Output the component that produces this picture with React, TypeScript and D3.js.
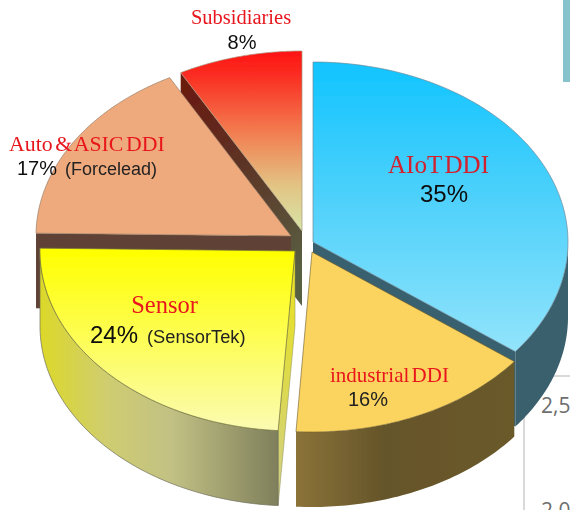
import React from "react";
import * as d3 from "d3";

const sliceNames = ["AIoT DDI", "industrial DDI", "Sensor", "Auto & ASIC DDI", "Subsidiaries"];
const sliceValues = [35, 16, 24, 17, 8];
const axisTicks = ["2,5", "2,0"];

// Layout of the exploded, tilted pie
const W = 570, H = 510, RX = 255, RY = 180, DEPTH = 75;
const centers: [number, number][] = [[313, 242], [312, 252], [295, 251], [291, 236], [302, 231]];
// perspective nudges of each slice's start and end, degrees
const startNudge = [0, 1.5, 0.2, 0.9, 0.4];
const endNudge = [1.5, 0, 0.9, 0.4, 0];

const arcs = d3.pie<number>().sort(null).value((d) => d)(sliceValues);
const rad = (deg: number) => (deg * Math.PI) / 180;

function span(i: number): [number, number] {
  return [arcs[i].startAngle + rad(startNudge[i]), arcs[i].endAngle + rad(endNudge[i])];
}
function pt(i: number, a: number, dy = 0): [number, number] {
  const [cx, cy] = centers[i];
  return [cx + RX * Math.sin(a), cy - RY * Math.cos(a) + dy];
}
function arcPts(i: number, a0: number, a1: number, dy = 0): [number, number][] {
  return d3.range(0, 61).map((k) => pt(i, a0 + ((a1 - a0) * k) / 60, dy));
}
const line = d3.line().curve(d3.curveLinear);
const closed = (pts: [number, number][]) => line(pts) + "Z";

function topFace(i: number) {
  const [a0, a1] = span(i);
  return closed([centers[i], ...arcPts(i, a0, a1)]);
}
function outerWall(i: number, a0: number, a1: number) {
  return closed([...arcPts(i, a0, a1), ...arcPts(i, a1, a0, DEPTH)]);
}
function edgeWall(i: number, a: number) {
  const c = centers[i];
  const p = pt(i, a);
  return closed([c, p, [p[0], p[1] + DEPTH], [c[0], c[1] + DEPTH]]);
}

const serif = "'Liberation Serif', 'Times New Roman', serif";
const sans = "'Liberation Sans', Arial, sans-serif";
const RED = "#e8171d";

function Grad({ id, x1, y1, x2, y2, stops }: any) {
  return (
    <linearGradient id={id} gradientUnits="userSpaceOnUse" x1={x1} y1={y1} x2={x2} y2={y2}>
      {stops.map((s: [number, string], k: number) => (
        <stop key={k} offset={s[0]} stopColor={s[1]} />
      ))}
    </linearGradient>
  );
}

export default function App() {
  const sp = [0, 1, 2, 3, 4].map(span);
  const edge = "#6f6f5c";
  return (
    <svg width={W} height={H} viewBox={`0 0 ${W} ${H}`} style={{ position: "absolute", left: 0, top: 0, display: "block", background: "#fff" }}>
      <defs>
        <filter id="soft" x="-5%" y="-5%" width="110%" height="110%">
          <feGaussianBlur stdDeviation="0.45" />
        </filter>
        <Grad id="gBlue" x1={0} y1={61} x2={0} y2={352} stops={[[0, "#10c4ff"], [0.45, "#4bd0fb"], [1, "#92e4fb"]]} />
        <Grad id="gRed" x1={0} y1={51} x2={0} y2={232} stops={[[0, "#ff1414"], [0.12, "#fb2a20"], [0.45, "#f27d50"], [0.75, "#e2c585"], [1, "#d6e6a8"]]} />
        <Grad id="gRedWall" x1={181} y1={90} x2={302} y2={270} stops={[[0, "#6a1a10"], [0.45, "#5c3426"], [1, "#596043"]]} />
        <Grad id="gYellow" x1={0} y1={250} x2={0} y2={432} stops={[[0, "#ffff00"], [0.5, "#fdfd58"], [1, "#fbfbb4"]]} />
        <Grad id="gYellowWall" x1={41} y1={0} x2={278} y2={0} stops={[[0, "#dcd82a"], [0.28, "#cfcd70"], [0.55, "#c2c184"], [1, "#7f7f5c"]]} />
        <Grad id="gYellowEdge" x1={0} y1={251} x2={0} y2={506} stops={[[0, "#ece41c"], [0.4, "#e0dc40"], [1, "#cfce8a"]]} />
        <Grad id="gBrownWall" x1={296} y1={0} x2={514} y2={0} stops={[[0, "#8b7339"], [0.4, "#65552a"], [1, "#6a5a2a"]]} />
      </defs>

      <g stroke="#d9d9d9" strokeWidth={2} fill="none">
        <line x1={524} y1={376} x2={570} y2={376} />
        <line x1={524} y1={376} x2={524} y2={510} />
      </g>
      <rect x={563} y={0} width={7} height={82} fill="#86c3cc" />
      <g fontFamily="'Open Sans', sans-serif" fontSize={21} fill="#6e6e6e">
        <text x={541} y={413}>{axisTicks[0]}</text>
        <text x={541} y={518}>{axisTicks[1]}</text>
      </g>

      <g filter="url(#soft)">
        <path d={edgeWall(0, sp[0][1])} fill="#38606e" />
        <path d={outerWall(0, rad(90), sp[0][1])} fill="#3b606d" />

        <path d={edgeWall(4, sp[4][0])} fill="url(#gRedWall)" />
        <path d={topFace(4)} fill="url(#gRed)" stroke="#a89a80" strokeWidth={0.7} />

        <path d={edgeWall(3, sp[3][0])} fill="#5e4234" />
        <path d={topFace(3)} fill="#eeaa7d" stroke="#9a8068" strokeWidth={0.7} />

        <path d={edgeWall(2, sp[2][0])} fill="url(#gYellowEdge)" stroke="#8a8a50" strokeWidth={0.5} />
        <path d={outerWall(2, sp[2][0], sp[2][1])} fill="url(#gYellowWall)" stroke={edge} strokeWidth={0.7} />
        <path d={topFace(2)} fill="url(#gYellow)" stroke="#77773a" strokeWidth={0.7} />

        <path d={outerWall(1, sp[1][0], sp[1][1])} fill="url(#gBrownWall)" />
        <path d={topFace(1)} fill="#fbd35f" stroke="#6b5a2a" strokeWidth={0.6} />

        <path d={topFace(0)} fill="url(#gBlue)" stroke="#6d8b99" strokeWidth={0.7} />

        <text x={241} y={24} textAnchor="middle" fontFamily={serif} fontSize={20.5} fill={RED}>{sliceNames[4]}</text>
        <text x={242} y={49} textAnchor="middle" fontFamily={sans} fontSize={20} fill="#111">{sliceValues[4]}%</text>

        <text x={9} y={151} fontFamily={serif} fontSize={21.8} wordSpacing={-2.8} fill={RED}>{sliceNames[3]}</text>
        <text x={17} y={175} fontFamily={sans} fontSize={20} fill="#111">{sliceValues[3]}%</text>
        <text x={65} y={175} fontFamily={sans} fontSize={18} fill="#222">(Forcelead)</text>

        <text x={388} y={173} fontFamily={serif} fontSize={25} wordSpacing={-3.4} fill="#d3202e">{sliceNames[0]}</text>
        <text x={444} y={202} textAnchor="middle" fontFamily={sans} fontSize={24} fill="#0a0a0a">{sliceValues[0]}%</text>

        <text x={164.5} y={313} textAnchor="middle" fontFamily={serif} fontSize={24.5} fill={RED}>{sliceNames[2]}</text>
        <text x={90} y={343} fontFamily={sans} fontSize={24} fill="#0a0a0a">{sliceValues[2]}%</text>
        <text x={147} y={343} fontFamily={sans} fontSize={18.3} fill="#222">(SensorTek)</text>

        <text x={330} y={382} fontFamily={serif} fontSize={21} wordSpacing={-3} fill={RED}>{sliceNames[1]}</text>
        <text x={368} y={406} textAnchor="middle" fontFamily={sans} fontSize={20} fill="#222">{sliceValues[1]}%</text>
      </g>
    </svg>
  );
}
